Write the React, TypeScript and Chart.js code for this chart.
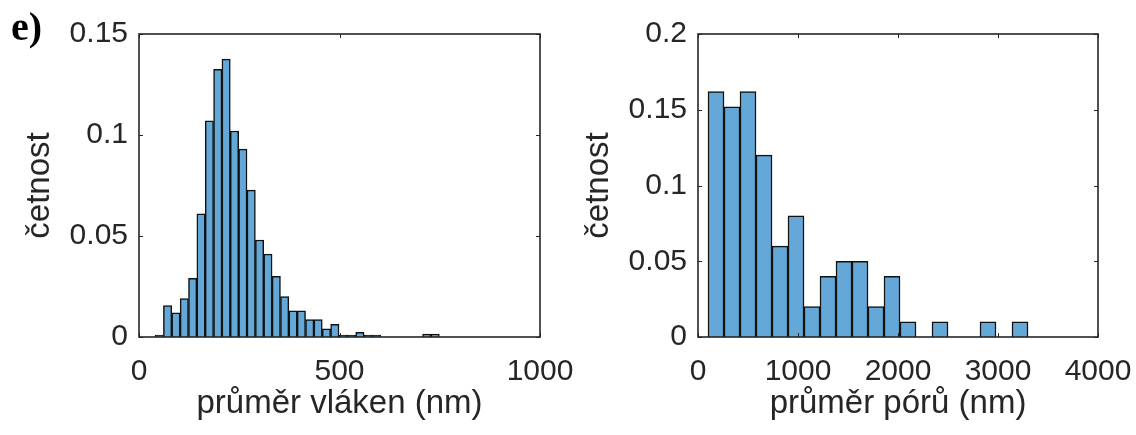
import React, { useEffect, useRef } from "react";
import { Chart, registerables } from "chart.js";

Chart.register(...registerables);

// ---- data ----
const panelLabel = "e)";
const yAxisLabel = "četnost";

const fiberXLabel = "průměr vláken (nm)";
const fiberBinEdges = [
  40, 60.9, 81.7, 102.6, 123.4, 144.3, 165.1, 186, 206.8, 227.7, 248.5, 269.4,
  290.2, 311.1, 331.9, 352.8, 373.6, 394.5, 415.3, 436.2, 457, 477.9, 498.7,
  519.6, 540.4, 561.3, 582.1, 603, 623.8, 644.7, 665.5, 686.4, 707.2, 728.1, 749,
];
const fiberFreq = [
  0.001, 0.0155, 0.012, 0.019, 0.029, 0.061, 0.107, 0.1325, 0.1376, 0.102,
  0.093, 0.0727, 0.048, 0.041, 0.03, 0.02, 0.013, 0.013, 0.0086, 0.0086,
  0.0041, 0.0063, 0.001, 0.001, 0.0023, 0.001, 0.001, 0, 0, 0, 0, 0, 0.0015,
  0.0015,
];
const fiberXTicks = [0, 500, 1000];
const fiberYTicks = [0, 0.05, 0.1, 0.15];

const poreXLabel = "průměr pórů (nm)";
const poreBinEdges = [
  100, 260, 420, 580, 740, 900, 1060, 1220, 1380, 1540, 1700, 1860, 2020, 2180,
  2340, 2500, 2660, 2820, 2980, 3140, 3300,
];
const poreFreq = [
  0.162, 0.152, 0.162, 0.12, 0.06, 0.08, 0.02, 0.04, 0.05, 0.05, 0.02, 0.04,
  0.01, 0, 0.01, 0, 0, 0.01, 0, 0.01,
];
const poreXTicks = [0, 1000, 2000, 3000, 4000];
const poreYTicks = [0, 0.05, 0.1, 0.15, 0.2];

// ---- styles ----
const FONT = "'Liberation Sans', Arial, Helvetica, sans-serif";
const TEXT = "#262626";
const BAR_FILL = "rgb(100,168,216)";
const BAR_EDGE = "#111111";
const TICK_SIZE = 30;
const TITLE_SIZE = 33;

const boxPlugin = {
  id: "matlabBox",
  afterDraw(chart: any) {
    const { ctx, chartArea: a, scales } = chart;
    const tl = 4;
    ctx.save();
    ctx.strokeStyle = TEXT;
    ctx.lineWidth = 1;
    ctx.beginPath();
    scales.x.ticks.forEach((t: any) => {
      const px = Math.round(scales.x.getPixelForValue(t.value)) + 0.5;
      ctx.moveTo(px, a.bottom);
      ctx.lineTo(px, a.bottom - tl);
      ctx.moveTo(px, a.top);
      ctx.lineTo(px, a.top + tl);
    });
    scales.y.ticks.forEach((t: any) => {
      const py = Math.round(scales.y.getPixelForValue(t.value)) + 0.5;
      ctx.moveTo(a.left, py);
      ctx.lineTo(a.left + tl, py);
      ctx.moveTo(a.right, py);
      ctx.lineTo(a.right - tl, py);
    });
    ctx.stroke();
    ctx.lineWidth = 1.6;
    ctx.strokeRect(a.left, a.top, a.right - a.left, a.bottom - a.top);
    ctx.restore();
  },
};

function makeConfig(
  edges: number[],
  freq: number[],
  xTicks: number[],
  yTicks: number[],
  xLabel: string,
  padRight: number
): any {
  const points = freq.map((v, i) => ({ x: (edges[i] + edges[i + 1]) / 2, y: v }));
  return {
    type: "bar",
    data: {
      datasets: [
        {
          data: points,
          backgroundColor: BAR_FILL,
          borderColor: BAR_EDGE,
          borderWidth: 1.5,
          barPercentage: 1,
          categoryPercentage: 1,
        },
      ],
    },
    options: {
      animation: false,
      responsive: false,
      layout: { padding: { top: 34, right: padRight, left: 0, bottom: 0 } },
      plugins: { legend: { display: false }, tooltip: { enabled: false } },
      scales: {
        x: {
          type: "linear",
          min: xTicks[0],
          max: xTicks[xTicks.length - 1],
          offset: false,
          grid: { display: false, offset: false, drawTicks: false },
          border: { display: false },
          afterBuildTicks: (s: any) => {
            s.ticks = xTicks.map((v) => ({ value: v }));
          },
          afterFit: (s: any) => {
            s.height = 98;
            s.paddingLeft = 0;
            s.paddingRight = 0;
          },
          ticks: {
            color: TEXT,
            padding: 17,
            maxRotation: 0,
            autoSkip: false,
            font: { family: FONT, size: TICK_SIZE, lineHeight: 1.2 },
            callback: (v: any) => String(v),
          },
          title: {
            display: true,
            text: xLabel,
            color: TEXT,
            font: { family: FONT, size: TITLE_SIZE, lineHeight: 1.2 },
            padding: { top: 0, bottom: 11 },
          },
        },
        y: {
          type: "linear",
          min: yTicks[0],
          max: yTicks[yTicks.length - 1],
          grid: { display: false, drawTicks: false },
          border: { display: false },
          afterBuildTicks: (s: any) => {
            s.ticks = yTicks.map((v) => ({ value: v }));
          },
          afterFit: (s: any) => {
            s.width = 139;
            s.paddingTop = 0;
            s.paddingBottom = 0;
          },
          ticks: {
            color: TEXT,
            padding: 11,
            autoSkip: false,
            font: { family: FONT, size: TICK_SIZE, lineHeight: 1.2 },
            callback: (v: any) => String(v),
          },
          title: {
            display: true,
            text: yAxisLabel,
            color: TEXT,
            font: { family: FONT, size: TITLE_SIZE, lineHeight: 1.2 },
            padding: { top: 20, bottom: 0 },
          },
        },
      },
    },
    plugins: [boxPlugin],
  };
}

export default function App() {
  const leftRef = useRef<HTMLCanvasElement>(null);
  const rightRef = useRef<HTMLCanvasElement>(null);

  useEffect(() => {
    const c1 = new Chart(
      leftRef.current as HTMLCanvasElement,
      makeConfig(fiberBinEdges, fiberFreq, fiberXTicks, fiberYTicks, fiberXLabel, 50)
    );
    const c2 = new Chart(
      rightRef.current as HTMLCanvasElement,
      makeConfig(poreBinEdges, poreFreq, poreXTicks, poreYTicks, poreXLabel, 38)
    );
    return () => {
      c1.destroy();
      c2.destroy();
    };
  }, []);

  return (
    <div
      style={{
        position: "absolute",
        left: 0,
        top: 0,
        width: 1136,
        height: 435,
        background: "#ffffff",
        overflow: "hidden",
      }}
    >
      <canvas
        ref={leftRef}
        width={590}
        height={435}
        style={{ position: "absolute", left: 0, top: 0, width: 590, height: 435 }}
      />
      <canvas
        ref={rightRef}
        width={577}
        height={435}
        style={{ position: "absolute", left: 559, top: 0, width: 577, height: 435 }}
      />
      <div
        style={{
          position: "absolute",
          left: 11,
          top: 4,
          fontFamily: "'Liberation Serif', 'Times New Roman', serif",
          fontWeight: "bold",
          fontSize: 40,
          lineHeight: "46px",
          color: "#000000",
        }}
      >
        {panelLabel}
      </div>
    </div>
  );
}
